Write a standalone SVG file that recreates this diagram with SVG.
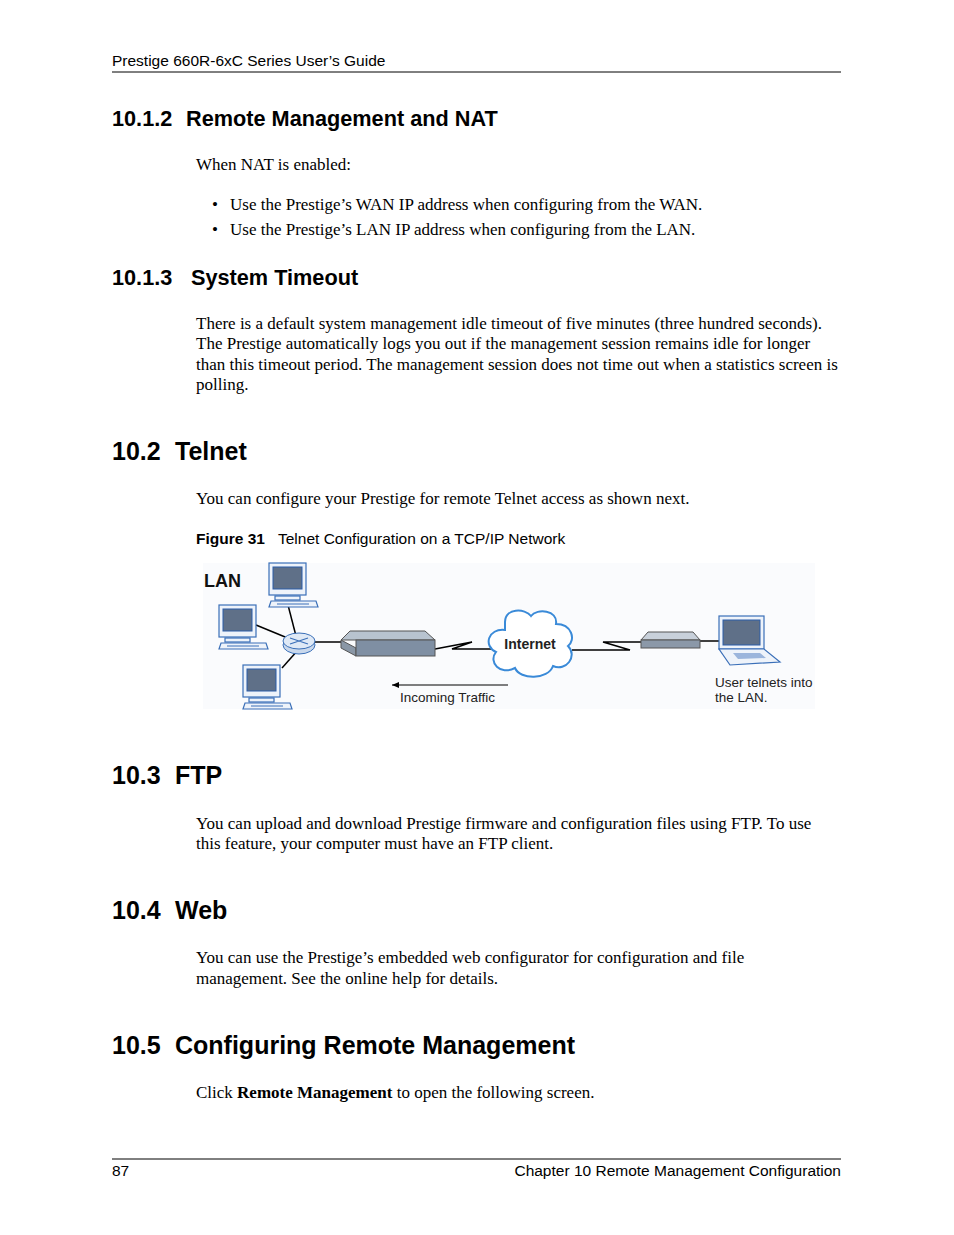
<svg xmlns="http://www.w3.org/2000/svg" width="954" height="1235" viewBox="0 0 954 1235">
<style>
.s{font-family:"Liberation Sans",Arial,sans-serif}
.r{font-family:"Liberation Serif","Times New Roman",serif;font-size:17px}
.h2{font-family:"Liberation Sans",Arial,sans-serif;font-weight:bold;font-size:21.7px}
.h1{font-family:"Liberation Sans",Arial,sans-serif;font-weight:bold;font-size:25px}
.ln{stroke:#000;stroke-width:1.5;fill:none}
.scr{fill:#5f7088;stroke:#2a5da8;stroke-width:1}
.bez{fill:#eef3fa;stroke:#3a6fb8;stroke-width:1.2}
</style>
<defs>
<g id="pc">
<rect x="0" y="0" width="37" height="32" class="bez"/>
<rect x="4" y="4" width="29" height="22" class="scr"/>
<rect x="6" y="33" width="25" height="4" class="bez"/>
<path d="M2,38 L47,38 L49,44 L0,44 Z" class="bez"/>
<line x1="8" y1="41" x2="40" y2="41" stroke="#3a6fb8" stroke-width="1"/>
</g>
<marker id="ah" markerWidth="8" markerHeight="8" refX="1" refY="4" orient="auto"><path d="M8,1 L1,4 L8,7 Z" fill="#000"/></marker>
</defs>
<rect width="954" height="1235" fill="#fff"/>
<text class="s" x="112" y="66" font-size="15.5">Prestige 660R-6xC Series User’s Guide</text>
<line x1="112" y1="72" x2="841" y2="72" stroke="#000" stroke-width="1"/>
<text class="h2" x="112" y="126">10.1.2<tspan x="186">Remote Management and NAT</tspan></text>
<text class="r" x="196" y="170">When NAT is enabled:</text>
<text class="r" x="212" y="210">•</text><text class="r" x="230" y="210">Use the Prestige’s WAN IP address when configuring from the WAN.</text>
<text class="r" x="212" y="235">•</text><text class="r" x="230" y="235">Use the Prestige’s LAN IP address when configuring from the LAN.</text>
<text class="h2" x="112" y="285">10.1.3<tspan x="191">System Timeout</tspan></text>
<text class="r" x="196" y="329">There is a default system management idle timeout of five minutes (three hundred seconds).</text>
<text class="r" x="196" y="349">The Prestige automatically logs you out if the management session remains idle for longer</text>
<text class="r" x="196" y="370">than this timeout period. The management session does not time out when a statistics screen is</text>
<text class="r" x="196" y="390">polling.</text>
<text class="h1" x="112" y="460">10.2<tspan x="175">Telnet</tspan></text>
<text class="r" x="196" y="504">You can configure your Prestige for remote Telnet access as shown next.</text>
<text class="s" x="196" y="544" font-size="15.5"><tspan font-weight="bold">Figure 31</tspan><tspan x="278">Telnet Configuration on a TCP/IP Network</tspan></text>
<g id="figure">
<rect x="203" y="563" width="612" height="146" fill="#fafbfd"/>
<text class="s" x="204" y="587" font-size="18" font-weight="bold" fill="#111">LAN</text>
<g id="connectors">
<line class="ln" x1="288" y1="605" x2="296" y2="636"/>
<line class="ln" x1="256" y1="625" x2="290" y2="639"/>
<line class="ln" x1="298" y1="650" x2="282" y2="668"/>
<line class="ln" x1="314" y1="642" x2="343" y2="642"/>
<path class="ln" d="M435,649 L472,642 L452,649 L492,649"/>
<path class="ln" d="M572,650 L630,650 L603,642 L643,642"/>
<line class="ln" x1="700" y1="641" x2="720" y2="641"/>
<line stroke="#000" stroke-width="1" x1="392" y1="685" x2="508" y2="685" marker-start="url(#ah)"/>
</g>
<g id="pc1"><use href="#pc" x="269" y="563"/></g>
<g id="pc2"><use href="#pc" x="219" y="605"/></g>
<g id="pc3"><use href="#pc" x="243" y="665"/></g>
<g id="hub"><ellipse cx="299" cy="645" rx="16" ry="9" fill="#c9d8ec" stroke="#3a6fb8"/><ellipse cx="299" cy="641" rx="16" ry="8" fill="#dfe9f6" stroke="#3a6fb8"/><path d="M290,638 L308,644 M290,644 L308,638" stroke="#3a6fb8" stroke-width="1.2"/></g>
<g id="prestige"><path d="M341,640 L350,631 L425,631 L435,640 Z" fill="#b8c3cf" stroke="#555"/><path d="M341,640 L356,648 L356,656 L341,648 Z" fill="#8a97a6" stroke="#555"/><rect x="356" y="640" width="79" height="16" fill="#7f8fa3" stroke="#555"/></g>
<g id="internet"><path d="M505,622 C505,608 525,608 531,616 C537,608 558,610 556,624 C572,624 576,640 568,646 C578,656 566,672 553,666 C548,680 520,680 515,668 C500,676 488,662 496,652 C483,646 488,628 505,630 Z" fill="#fff" stroke="#3a8ad8" stroke-width="2"/><text class="s" x="530" y="649" font-size="14" font-weight="bold" text-anchor="middle" fill="#222">Internet</text></g>
<g id="modem"><path d="M641,640 L648,632 L693,632 L700,640 Z" fill="#c8d0da" stroke="#555"/><rect x="641" y="640" width="59" height="8" fill="#8b98a8" stroke="#555"/></g>
<g id="laptop"><rect x="719" y="616" width="45" height="33" class="bez"/><rect x="723" y="620" width="37" height="25" class="scr"/><path d="M719,649 L764,649 L780,662 L730,665 Z" class="bez"/><path d="M733,653 L760,653 L766,658 L738,659 Z" fill="#9bb5dc"/></g>
<text class="s" x="400" y="702" font-size="13.5" fill="#222">Incoming Traffic</text>
<text class="s" x="715" y="687" font-size="13.5" fill="#222">User telnets into</text>
<text class="s" x="715" y="702" font-size="13.5" fill="#222">the LAN.</text>
</g>
<text class="h1" x="112" y="784">10.3<tspan x="175">FTP</tspan></text>
<text class="r" x="196" y="829">You can upload and download Prestige firmware and configuration files using FTP. To use</text>
<text class="r" x="196" y="849">this feature, your computer must have an FTP client.</text>
<text class="h1" x="112" y="919">10.4<tspan x="175">Web</tspan></text>
<text class="r" x="196" y="963">You can use the Prestige’s embedded web configurator for configuration and file</text>
<text class="r" x="196" y="984">management. See the online help for details.</text>
<text class="h1" x="112" y="1054">10.5<tspan x="175">Configuring Remote Management</tspan></text>
<text class="r" x="196" y="1098">Click <tspan font-weight="bold">Remote Management</tspan> to open the following screen.</text>
<line x1="112" y1="1159" x2="841" y2="1159" stroke="#000" stroke-width="1"/>
<text class="s" x="112" y="1176" font-size="15.5">87</text>
<text class="s" x="841" y="1176" font-size="15.5" text-anchor="end">Chapter 10 Remote Management Configuration</text>
</svg>
